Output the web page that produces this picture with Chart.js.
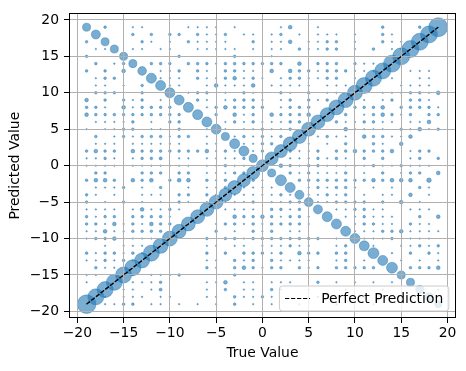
<!DOCTYPE html>
<html>
<head>
<meta charset="utf-8">
<script src="https://cdn.jsdelivr.net/npm/chart.js@4.4.0/dist/chart.umd.min.js"></script>
<style>
  html, body { margin: 0; padding: 0; background: #fff; }
</style>
</head>
<body>
<canvas id="chart" width="466" height="371"></canvas>
<script>
// integer values used on both axes
const values = [-19, -18, -17, -16, -15, -14, -13, -12, -11, -10, -9, -8, -7, -6, -5, -4, -3, -2, -1,
    0, 1, 2, 3, 4, 5, 6, 7, 8, 9, 10, 11, 12, 13, 14, 15, 16, 17, 18, 19];

// counts where predicted == true
const diagonalCounts = [107, 79, 79, 79, 79, 79, 69, 79, 69, 69, 60, 60, 60, 60, 60, 52, 60, 52, 52,
    44, 52, 52, 60, 60, 60, 60, 60, 69, 69, 69, 79, 79, 79, 89, 89, 89, 89, 89, 111];

// counts where predicted == -true
const antiDiagonalCounts = [20, 25, 20, 20, 20, 20, 23, 31, 31, 31, 31, 31, 31, 31, 31, 20, 31, 31, 20,
    0, 20, 37, 31, 25, 25, 25, 31, 31, 31, 31, 31, 37, 31, 37, 20, 20, 20, 20, 15];

// the scattered small counts, one row per predicted value, "true:count"
const rowValues = [19, 18, 17, 16, 15, 14, 13, 12, 11, 10, 9, 8, 7, 6, 5, 4, 3, 2, 1, 0,
    -1, -2, -3, -4, -5, -6, -7, -8, -9, -10, -11, -12, -13, -14, -15, -16, -17, -18, -19];
const offDiagonalRows = [
    '-17:3 -14:1 -13:1 -8:1 -7:1 -6:1 -5:1 -3:1 2:1 3:6 6:1 13:3 17:3',
    '-14:3 -12:3 -10:3 -9:3 -7:3 -6:1 -5:1 -4:3 -2:1 -1:1 1:1 2:3 4:1 6:1 7:1 8:1 10:1 13:3 14:1',
    '-19:3 -13:3 -12:1 -10:1 -8:3 -7:1 -6:1 -5:1 -4:1 -1:3 1:1 2:1 3:6 5:1 6:1 7:3 8:3 10:1 13:3 14:1 15:1',
    '-18:1 -17:1 -14:1 -13:1 -11:1 -10:1 -7:1 -6:1 -5:1 -4:1 -3:1 -1:1 1:1 2:1 4:3 5:1 6:1 7:3 8:3 10:1 12:3 14:1 15:1',
    '-19:3 -9:3 -3:3 1:1',
    '-18:3 -16:1 -15:3 -12:3 -11:3 -10:3 -8:3 -7:3 -6:3 -5:1 -4:3 -3:3 -2:3 -1:3 0:3 1:3 2:3 4:6 6:3 7:3 8:3 10:3 11:1 12:1',
    '-19:3 -17:3 -15:6 -11:1 -10:1 -9:3 -7:3 -6:1 -4:3 -3:3 -2:1 -1:1 1:6 3:6 4:3 5:3 6:1 7:3 8:3 9:3 10:1 11:1 12:1 16:1 17:1 18:1',
    '-18:1 -17:3 -16:3 -11:1 -10:1 -9:1 -7:3 -6:1 -5:1 -4:3 -3:6 -2:1 -1:3 0:1 2:1 3:3 4:3 5:1 6:1 7:3 8:3 10:1 14:1 17:1 18:1',
    '-18:1 -17:1 -15:1 -13:3 -10:1 -9:1 -6:1 -5:6 -4:1 -3:1 -2:1 -1:6 1:1 2:1 3:1 4:1 5:1 7:1 8:1 9:1 15:1 16:1 17:1 18:1',
    '-18:3 -17:3 -16:3 -13:3 -8:1 -7:3 -6:3 -4:1 -2:3 -1:1 0:1 2:3 3:1 5:3 7:1 8:1 13:1 14:1 15:1 16:3 17:3 18:1 19:6',
    '-19:6 -17:3 -15:3 -14:1 -13:3 -11:1 -7:3 -6:1 -4:1 -3:3 -2:3 -1:3 0:1 2:1 3:3 5:3 6:1 7:3 11:1 13:1 14:3 16:3 17:3 18:1',
    '-19:3 -18:3 -17:1 -15:6 -14:1 -13:3 -12:3 -11:3 -10:3 -6:1 -5:3 -4:6 -3:3 -2:3 -1:3 0:3 2:1 3:3 4:3 5:3 10:3 11:3 12:3 13:6 15:3 16:3 17:3 18:3 19:1',
    '-19:6 -18:3 -17:3 -16:3 -15:3 -14:3 -13:3 -12:3 -11:3 -10:3 -9:3 -5:3 -3:6 -2:1 -1:3 1:6 2:3 3:3 4:3 5:6 9:3 11:1 12:3 13:6 14:3 15:1 16:3 18:3 19:3',
    '-18:1 -17:1 -16:1 -15:1 -14:3 -12:1 -10:3 -9:3 -4:1 -3:3 -2:1 -1:3 0:1 1:1 2:1 3:3 4:3 8:3 9:1 10:1 11:3 12:3 13:1 14:1 16:1 17:1 18:6',
    '-19:1 -17:1 -16:1 -15:3 -14:3 -12:1 -11:1 -9:3 -6:1 -4:1 -2:1 -1:1 0:3 1:1 2:1 3:3 9:6 10:1 11:1 12:1 13:1 15:3 16:1 17:6 18:1 19:3',
    '-18:3 -16:1 -15:3 -14:1 -13:3 -12:3 -11:3 -10:1 -9:3 -8:3 -6:1 -3:1 -2:3 -1:1 0:3 1:1 2:3 6:1 7:3 8:1 9:1 11:6 12:3 13:3 14:1 15:1 16:6',
    '-18:1 -17:1 -16:1 -14:1 -13:1 -12:1 -11:1 -10:1 -9:1 -6:1 -5:1 -2:1 -1:1 0:3 1:3 5:1 7:1 9:3 12:3 13:1 15:6',
    '-19:3 -18:6 -17:3 -16:3 -14:6 -13:3 -12:3 -11:3 -10:3 -9:3 -8:3 -7:3 -6:6 -5:1 -4:3 -3:1 -1:1 0:3 3:3 4:1 5:1 6:3 8:3 9:3 10:6 11:3 12:3 13:3 14:6 16:1 17:3 18:3',
    '-19:1 -18:1 -17:3 -16:1 -14:1 -13:3 -12:3 -11:4 -9:1 -8:1 -6:1 -5:1 -4:1 -3:1 -2:3 3:1 4:1 5:1 6:3 7:1 8:3 9:1 11:3 13:3 16:1 17:3 19:3',
    '-19:1 -18:1 -17:1 -16:1 -14:1 -13:1 -12:1 -11:1 -10:1 -9:1 -8:1 -6:1 -5:1 -4:3 -3:1 -2:1 2:6 3:3 4:1 5:3 6:3 7:1 8:1 9:1 10:1 11:1 12:3 13:1 14:1 15:3 16:1 17:1 18:1',
    '-18:3 -17:3 -13:3 -12:3 -11:3 -9:3 -8:3 -6:1 -5:1 -4:1 -3:3 -2:3 3:3 4:1 5:3 6:1 7:1 8:1 9:3 11:1 13:3 15:1 16:3 17:3 19:6',
    '-19:3 -18:6 -17:6 -16:3 -14:6 -13:3 -12:6 -10:3 -9:6 -8:6 -6:3 -5:1 -4:3 -1:3 0:1 4:3 5:3 6:3 7:3 8:3 9:3 10:3 11:3 12:6 13:3 14:6 15:6 16:6 18:9',
    '-18:1 -17:1 -16:1 -15:3 -13:1 -11:3 -8:1 -6:1 -5:1 -4:3 -2:1 -1:1 0:1 1:1 5:1 6:3 7:1 8:3 9:3 10:1 12:1 14:1 17:3 18:1',
    '-19:3 -18:1 -16:1 -13:1 -12:1 -11:1 -9:3 -8:3 -6:3 -5:1 -3:1 -2:1 -1:1 0:1 1:1 2:3 3:1 5:1 6:1 7:3 8:1 9:3 11:1 13:1 14:1 16:6 18:1',
    '-19:3 -17:1 -15:3 -13:1 -11:1 -9:3 -8:1 -6:1 -4:1 -3:1 -2:1 -1:3 1:1 2:1 3:3 4:3 6:1 7:1 8:3 9:3 10:3 11:3 13:3 15:6 17:1',
    '-19:1 -18:1 -17:1 -16:1 -14:1 -13:6 -12:1 -11:1 -10:3 -9:1 -4:1 -3:1 -2:1 -1:1 1:3 2:3 3:1 4:3 8:1 9:1 10:3 11:3 12:1 13:1 16:1 17:1 18:1',
    '-19:3 -18:1 -17:3 -16:3 -14:3 -13:3 -12:3 -11:3 -10:1 -3:6 -2:3 -1:3 0:6 1:3 2:1 3:3 4:3 5:1 9:1 10:1 11:3 12:1 13:1 14:1 17:3 19:6',
    '-19:3 -18:3 -17:1 -16:6 -15:1 -14:3 -13:1 -12:6 -11:3 -10:3 -5:1 -4:3 -3:3 -2:1 -1:3 0:1 1:3 2:3 3:3 4:3 5:1 10:1 11:3 12:3 13:1 14:1 16:3 17:1 18:1',
    '-19:1 -18:1 -17:6 -16:1 -15:1 -14:3 -13:3 -12:3 -11:3 -5:3 -3:1 -1:3 0:1 1:3 3:1 4:1 10:1 11:1 12:1 13:3 14:3 15:6 16:1 17:1 18:1 19:1',
    '-19:1 -18:3 -17:3 -16:6 -15:1 -14:1 -13:1 -12:1 -6:3 -4:3 -3:3 -2:1 -1:3 0:3 1:3 2:3 3:3 4:3 5:3 6:3 8:1 11:1 12:1 13:1 14:3 16:1 17:1 18:1',
    '-17:1 -15:1 -14:1 -13:1 -6:1 -5:1 -3:1 -2:1 0:1 1:1 2:1 3:3 4:1 5:1 8:1 9:3 12:1 15:1 16:1 17:3 18:1 19:3',
    '-19:3 -18:1 -17:3 -16:3 -15:1 -14:3 -13:1 -6:3 -4:3 -2:3 -1:3 0:3 1:1 2:3 4:6 5:3 6:3 8:3 9:3 14:1 16:3 18:3 19:1',
    '-19:1 -18:1 -17:3 -16:1 -15:3 -14:1 -6:1 -5:1 -3:3 -2:1 -1:3 1:3 2:1 3:1 4:1 5:1 8:1 9:3 11:1 15:1 17:1 19:1',
    '-18:3 -17:1 -16:1 -6:3 -5:1 -3:3 -2:6 -1:3 0:1 1:3 2:3 4:3 5:1 6:3 8:3 9:3 10:3 11:3 12:3 16:3 17:3 18:3 19:6',
    '-19:1 -18:1 -14:1 -12:1 -11:1 -10:1 -9:3 -3:3',
    '-19:1 -14:1 -13:1 -12:1 -11:3 -6:1 -5:1 -4:6 -2:1 -1:1 1:1 2:1 3:1 6:3 8:1 10:1 12:1 14:1',
    '-15:1 -14:1 -12:1 -11:4 -6:1 -4:3 -2:1 -1:1 1:3 2:1 5:1 9:1 13:1 19:1',
    '-17:1 -15:1 -14:1 -13:1 -11:1 -10:1 -6:1 -5:1 -3:3 -2:1 -1:1 0:3 1:1 6:1 11:1 16:1',
    '-17:1 -16:1 -15:3 -14:3 -12:1 -11:1 -9:1 -7:1 -5:1 -3:3 -1:1 1:1 4:1 8:1 12:1'
];

const lineX = [-19, 19];
const lineY = [-19, 19];

const xTicks = [-20, -15, -10, -5, 0, 5, 10, 15, 20];
const yTicks = [-20, -15, -10, -5, 0, 5, 10, 15, 20];

const radius = count => 0.9 * Math.sqrt(count);

const bubbles = [];
values.forEach((v, i) => {
    bubbles.push({x: v, y: v, r: radius(diagonalCounts[i])});
    if (antiDiagonalCounts[i] > 0) {
        bubbles.push({x: v, y: -v, r: radius(antiDiagonalCounts[i])});
    }
});
offDiagonalRows.forEach((row, j) => {
    row.split(' ').forEach(cell => {
        const [x, c] = cell.split(':').map(Number);
        bubbles.push({x: x, y: rowValues[j], r: radius(c) * 0.85});
    });
});

const minus = v => String(v).replace('-', '\u2212');

Chart.defaults.font.family = '"DejaVu Sans"';
Chart.defaults.font.size = 13.9;
Chart.defaults.color = '#000';

// frame, the dashed line above the grid, and the legend box inside the plot
const frameAndLegend = {
    id: 'frameAndLegend',
    afterDraw(chart) {
        const ctx = chart.ctx;
        const a = chart.chartArea;
        chart.getDatasetMeta(0).controller.draw();

        ctx.save();
        ctx.strokeStyle = '#000';
        ctx.lineWidth = 1;
        ctx.strokeRect(Math.round(a.left) + 0.5, Math.round(a.top) + 0.5,
            Math.round(a.right - a.left) - 1, Math.round(a.bottom - a.top) - 1);

        const ds = chart.data.datasets[0];
        ctx.font = '13.9px "DejaVu Sans"';
        const tw = ctx.measureText(ds.label).width;
        const w = 5.6 + 25 + 11.1 + tw + 5.6;
        const h = 25;
        const x = a.right - 7 - w;
        const y = a.bottom - 7 - h;
        ctx.beginPath();
        ctx.roundRect(x, y, w, h, 3);
        ctx.fillStyle = 'rgba(255,255,255,0.8)';
        ctx.fill();
        ctx.strokeStyle = '#cccccc';
        ctx.stroke();

        ctx.beginPath();
        ctx.setLineDash(ds.borderDash);
        ctx.lineWidth = ds.borderWidth;
        ctx.strokeStyle = ds.borderColor;
        ctx.moveTo(x + 5.6, y + h / 2);
        ctx.lineTo(x + 5.6 + 25, y + h / 2);
        ctx.stroke();
        ctx.setLineDash([]);

        ctx.fillStyle = '#000';
        ctx.textBaseline = 'middle';
        ctx.textAlign = 'left';
        ctx.fillText(ds.label, x + 5.6 + 25 + 11.1, y + h / 2 + 0.5);
        ctx.restore();
    }
};

const ctx = document.getElementById('chart').getContext('2d');
new Chart(ctx, {
    type: 'bubble',
    data: {
        datasets: [{
            type: 'line',
            label: 'Perfect Prediction',
            data: lineX.map((x, i) => ({x: x, y: lineY[i]})),
            borderColor: '#000',
            borderWidth: 1.1,
            borderDash: [4.2, 1.8],
            pointRadius: 0,
            fill: false
        }, {
            label: 'counts',
            data: bubbles,
            backgroundColor: 'rgba(31, 119, 180, 0.6)',
            borderColor: 'rgba(31, 119, 180, 0.6)',
            borderWidth: 0.7
        }]
    },
    options: {
        responsive: false,
        animation: false,
        events: [],
        layout: { padding: { left: 0, right: 9, top: 10, bottom: 0 } },
        plugins: {
            legend: { display: false },
            tooltip: { enabled: false }
        },
        scales: {
            x: {
                type: 'linear',
                min: -20.9,
                max: 20.9,
                afterBuildTicks: s => { s.ticks = xTicks.map(v => ({value: v})); },
                afterFit: s => { s.height = 53; },
                grid: { z: 1, color: '#b0b0b0', lineWidth: 1, tickColor: '#000', tickLength: 5 },
                border: { display: false },
                ticks: { padding: 2, maxRotation: 0, autoSkip: false, callback: v => minus(v) },
                title: { display: true, text: 'True Value', padding: { top: 0, bottom: 9 } }
            },
            y: {
                type: 'linear',
                min: -20.9,
                max: 20.9,
                afterBuildTicks: s => { s.ticks = yTicks.map(v => ({value: v})); },
                afterFit: s => { s.width = 69; },
                grid: { z: 1, color: '#b0b0b0', lineWidth: 1, tickColor: '#000', tickLength: 5 },
                border: { display: false },
                ticks: { padding: 5, autoSkip: false, callback: v => minus(v) },
                title: { display: true, text: 'Predicted Value', padding: { top: 7, bottom: 0 } }
            }
        }
    },
    plugins: [frameAndLegend]
});
</script>
</body>
</html>
